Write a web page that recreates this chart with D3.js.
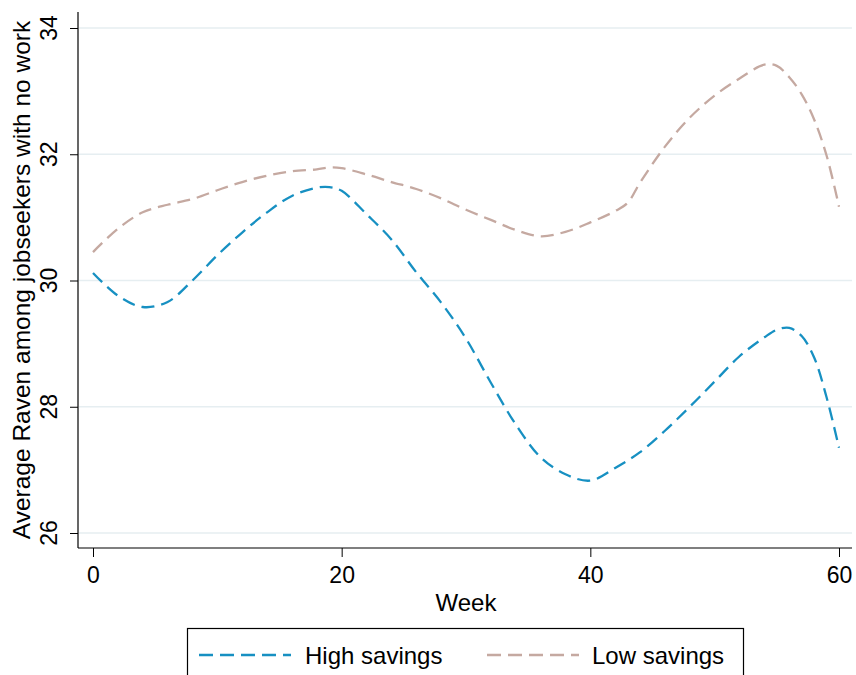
<!DOCTYPE html>
<html>
<head>
<meta charset="utf-8">
<script src="https://cdn.jsdelivr.net/npm/d3@7"></script>
<style>
  html, body { margin: 0; padding: 0; background: #fff; }
  svg { display: block; font-family: "Liberation Sans", Arial, Helvetica, sans-serif; }
</style>
</head>
<body>
<svg id="chart" width="856" height="675"></svg>
<script>
// ---- data ----
const weeks = [0,2,4,6,8,10,12,14,16,18,19,20,22,24,26,28,30,32,34,36,38,40,42,44,46,48,50,52,54,55,56,57,58,59,60];
const highSavings = [30.12,29.76,29.58,29.66,30.00,30.40,30.76,31.08,31.34,31.47,31.48,31.42,31.05,30.65,30.13,29.65,29.08,28.38,27.72,27.20,26.93,26.83,27.03,27.28,27.62,28.00,28.40,28.80,29.10,29.22,29.25,29.12,28.78,28.15,27.35];
const weeksLow = [0,2,4,6,8,10,12,14,16,18,19,20,22,24,26,28,30,32,34,36,38,40,42,43,44,46,48,50,52,54,55,56,57,58,59,60];
const lowSavings = [30.45,30.82,31.08,31.20,31.29,31.43,31.56,31.66,31.73,31.76,31.79,31.78,31.68,31.56,31.45,31.30,31.12,30.96,30.80,30.70,30.77,30.92,31.10,31.23,31.55,32.12,32.58,32.93,33.20,33.42,33.40,33.22,32.95,32.55,31.98,31.17];
const xTicks = [0,20,40,60];
const yTicks = [26,28,30,32,34];
const seriesNames = ["High savings","Low savings"];
const seriesColors = ["#1790c2","#c5a9a1"];

// ---- layout ----
const svg = d3.select("#chart");
const x = d3.scaleLinear().domain([0,60]).range([93,839]);
const y = d3.scaleLinear().domain([26,34]).range([533,28]);
const axisLeft = 78, axisBottom = 548, plotRight = 852, plotTop = 12;

// gridlines
svg.append("g").selectAll("line").data(yTicks).join("line")
  .attr("x1", axisLeft + 1).attr("x2", plotRight)
  .attr("y1", d => y(d)).attr("y2", d => y(d))
  .attr("stroke", "#e6eef1").attr("stroke-width", 1.5);

// y axis
const yAxis = svg.append("g").attr("transform", `translate(${axisLeft},0)`)
  .call(d3.axisLeft(y).tickValues(yTicks).tickSize(8).tickFormat(d3.format("d")));
yAxis.select(".domain").remove();
yAxis.selectAll(".tick line").attr("stroke", "#000");
yAxis.selectAll(".tick text").remove();
svg.append("line").attr("x1", axisLeft).attr("x2", axisLeft)
  .attr("y1", plotTop).attr("y2", axisBottom).attr("stroke", "#000").attr("stroke-width", 1.2);
svg.append("g").selectAll("text").data(yTicks).join("text")
  .attr("transform", d => `translate(57,${y(d)}) rotate(-90)`)
  .attr("text-anchor", "middle")
  .attr("font-size", 23).attr("fill", "#000")
  .text(d => d);

// x axis
const xAxis = svg.append("g").attr("transform", `translate(0,${axisBottom})`)
  .call(d3.axisBottom(x).tickValues(xTicks).tickSize(9).tickFormat(d3.format("d")));
xAxis.select(".domain").remove();
xAxis.selectAll(".tick line").attr("stroke", "#000");
xAxis.selectAll(".tick text").attr("font-size", 23).attr("fill", "#000")
  .attr("font-family", "Liberation Sans, Arial, sans-serif").attr("dy", "1.0em");
svg.append("line").attr("x1", axisLeft).attr("x2", plotRight)
  .attr("y1", axisBottom).attr("y2", axisBottom).attr("stroke", "#000").attr("stroke-width", 1.2);

// axis titles
svg.append("text").attr("x", (93 + 839) / 2).attr("y", 611)
  .attr("text-anchor", "middle").attr("font-size", 24).text("Week");
svg.append("text").attr("transform", `translate(30,${(plotTop + axisBottom) / 2}) rotate(-90)`)
  .attr("text-anchor", "middle").attr("font-size", 24.5)
  .text("Average Raven among jobseekers with no work");

// lines
const line = d3.line().x(d => x(d[0])).y(d => y(d[1])).curve(d3.curveCatmullRom.alpha(0.5));
const seriesData = [
  weeks.map((w, i) => [w, highSavings[i]]),
  weeksLow.map((w, i) => [w, lowSavings[i]])
];
svg.append("g").selectAll("path").data(seriesData).join("path")
  .attr("d", line)
  .attr("fill", "none")
  .attr("stroke", (d, i) => seriesColors[i])
  .attr("stroke-width", 2.3)
  .attr("stroke-dasharray", "13,7");

// legend
const lg = svg.append("g");
lg.append("rect").attr("x", 187.5).attr("y", 628.5).attr("width", 556).attr("height", 60)
  .attr("fill", "#fff").attr("stroke", "#000").attr("stroke-width", 1.2);
const legendPos = [{lx: 199, tx: 305}, {lx: 487, tx: 592}];
seriesNames.forEach((name, i) => {
  lg.append("line").attr("x1", legendPos[i].lx).attr("x2", legendPos[i].lx + 92)
    .attr("y1", 655).attr("y2", 655)
    .attr("stroke", seriesColors[i]).attr("stroke-width", 2.3).attr("stroke-dasharray", "14,7");
  lg.append("text").attr("x", legendPos[i].tx).attr("y", 664)
    .attr("font-size", 24).text(name);
});
</script>
</body>
</html>
